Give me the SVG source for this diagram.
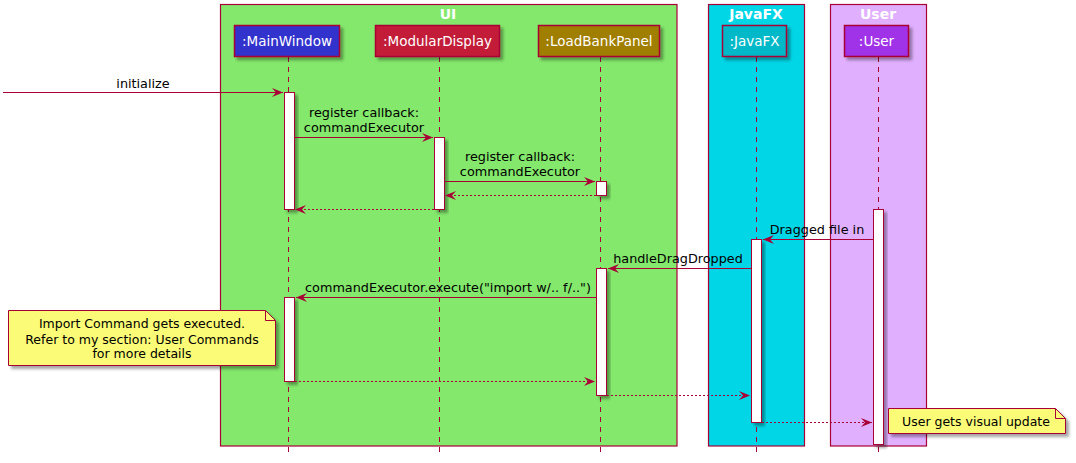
<svg xmlns="http://www.w3.org/2000/svg" width="1076" height="463" viewBox="0 0 1076 463">
<style>
.box{stroke:#A80036;stroke-width:1.2}
.title{font-family:"DejaVu Sans",sans-serif;font-size:14px;font-weight:bold;fill:#FFFFFF;text-anchor:middle}
.part{stroke:#A80036;stroke-width:1.5;filter:url(#sh)}
.ptext{font-family:"DejaVu Sans",sans-serif;font-size:13.5px;fill:#FFFFFF;text-anchor:middle}
.life{stroke:#A80036;stroke-width:1;stroke-dasharray:5,5;fill:none}
.act{fill:#FFFFFF;stroke:#A80036;stroke-width:1;filter:url(#sh)}
.msg{stroke:#A80036;stroke-width:1;fill:none;marker-end:url(#ah)}
.ret{stroke:#A80036;stroke-width:1;fill:none;stroke-dasharray:2,2;marker-end:url(#ah)}
.lbl{font-family:"DejaVu Sans",sans-serif;font-size:12.8px;fill:#000000;text-anchor:middle}
.ntxt{font-family:"DejaVu Sans",sans-serif;font-size:12.5px;fill:#000000;text-anchor:middle}
.note{fill:#FBFB77;stroke:#A80036;stroke-width:1;filter:url(#sh)}
</style>
<defs>
<filter id="sh" x="-20%" y="-20%" width="160%" height="160%">
<feDropShadow dx="3" dy="3" stdDeviation="1.5" flood-color="#000000" flood-opacity="0.35"/>
</filter>
<marker id="ah" markerWidth="11" markerHeight="9" refX="11" refY="4.5" orient="auto" markerUnits="userSpaceOnUse">
<path d="M0,0 L11,4.5 L0,9 L4,4.5 Z" fill="#A80036"/>
</marker>
</defs>
<rect width="1076" height="463" fill="#FFFFFF"/>
<g id="box-ui">
<rect class="box" x="220.5" y="4.5" width="456.5" height="441.5" fill="#84E86C"/>
<text class="title" x="448" y="19">UI</text>
</g>
<g id="box-javafx">
<rect class="box" x="708.5" y="4.5" width="96" height="441.5" fill="#00D6E6"/>
<text class="title" x="756" y="19">JavaFX</text>
</g>
<g id="box-user">
<rect class="box" x="830.5" y="4.5" width="96" height="441.5" fill="#E0B0FF"/>
<text class="title" x="878" y="19">User</text>
</g>
<g id="lifelines">
<line class="life" x1="288.5" y1="57" x2="288.5" y2="453"/>
<line class="life" x1="439.5" y1="57" x2="439.5" y2="453"/>
<line class="life" x1="600.5" y1="57" x2="600.5" y2="453"/>
<line class="life" x1="756.5" y1="57" x2="756.5" y2="453"/>
<line class="life" x1="878.5" y1="57" x2="878.5" y2="453"/>
</g>
<g id="p-mainwindow">
<rect class="part" x="234.5" y="25.5" width="105" height="31" fill="#3333CC"/>
<text class="ptext" x="287" y="46">:MainWindow</text>
</g>
<g id="p-modulardisplay">
<rect class="part" x="375.5" y="25.5" width="124" height="31" fill="#C21F38"/>
<text class="ptext" x="437.5" y="46">:ModularDisplay</text>
</g>
<g id="p-loadbankpanel">
<rect class="part" x="538.5" y="25.5" width="121" height="31" fill="#A07E00"/>
<text class="ptext" x="599" y="46">:LoadBankPanel</text>
</g>
<g id="p-javafx">
<rect class="part" x="722.5" y="25.5" width="64" height="31" fill="#00B9C8"/>
<text class="ptext" x="754.5" y="46">:JavaFX</text>
</g>
<g id="p-user">
<rect class="part" x="844.5" y="25.5" width="64" height="31" fill="#A030E8"/>
<text class="ptext" x="876.5" y="46">:User</text>
</g>
<g id="activations">
<rect class="act" x="284.5" y="92.5" width="10" height="117"/>
<rect class="act" x="434.5" y="137.5" width="10" height="72"/>
<rect class="act" x="596.5" y="181.5" width="10" height="14"/>
<rect class="act" x="873.5" y="209.5" width="10" height="235"/>
<rect class="act" x="751.5" y="239.5" width="10" height="183"/>
<rect class="act" x="596.5" y="268.5" width="10" height="127"/>
<rect class="act" x="284.5" y="297.5" width="10" height="84"/>
</g>
<g id="connectors">
<line class="msg" x1="3" y1="92.5" x2="283" y2="92.5"/>
<text class="lbl" x="143" y="88">initialize</text>
<line class="msg" x1="295" y1="137.5" x2="433" y2="137.5"/>
<text class="lbl" x="364" y="117">register callback:</text>
<text class="lbl" x="364" y="132">commandExecutor</text>
<line class="msg" x1="445" y1="181.5" x2="595" y2="181.5"/>
<text class="lbl" x="520" y="161">register callback:</text>
<text class="lbl" x="520" y="176">commandExecutor</text>
<line class="ret" x1="596" y1="195.5" x2="445" y2="195.5"/>
<line class="ret" x1="434" y1="209.5" x2="295" y2="209.5"/>
<line class="msg" x1="873" y1="239.5" x2="763" y2="239.5"/>
<text class="lbl" x="817" y="234">Dragged file in</text>
<line class="msg" x1="751" y1="268.5" x2="608" y2="268.5"/>
<text class="lbl" x="678" y="263">handleDragDropped</text>
<line class="msg" x1="596" y1="297.5" x2="296" y2="297.5"/>
<text class="lbl" x="448" y="292">commandExecutor.execute("import w/.. f/..")</text>
<line class="ret" x1="295" y1="381.5" x2="595" y2="381.5"/>
<line class="ret" x1="607" y1="395.5" x2="750" y2="395.5"/>
<line class="ret" x1="762" y1="422.5" x2="872" y2="422.5"/>
</g>
<g id="note-import">
<path class="note" d="M8.5,310.5 L265.5,310.5 L275.5,320.5 L275.5,365.5 L8.5,365.5 Z"/>
<path d="M265.5,310.5 L265.5,320.5 L275.5,320.5" fill="none" stroke="#A80036" stroke-width="1"/>
<text class="ntxt" x="142" y="328">Import Command gets executed.</text>
<text class="ntxt" x="142" y="344">Refer to my section: User Commands</text>
<text class="ntxt" x="142" y="358">for more details</text>
</g>
<g id="note-user">
<path class="note" d="M888.5,408.5 L1055.5,408.5 L1065.5,418.5 L1065.5,433.5 L888.5,433.5 Z"/>
<path d="M1055.5,408.5 L1055.5,418.5 L1065.5,418.5" fill="none" stroke="#A80036" stroke-width="1"/>
<text class="ntxt" x="976" y="426">User gets visual update</text>
</g>
</svg>
